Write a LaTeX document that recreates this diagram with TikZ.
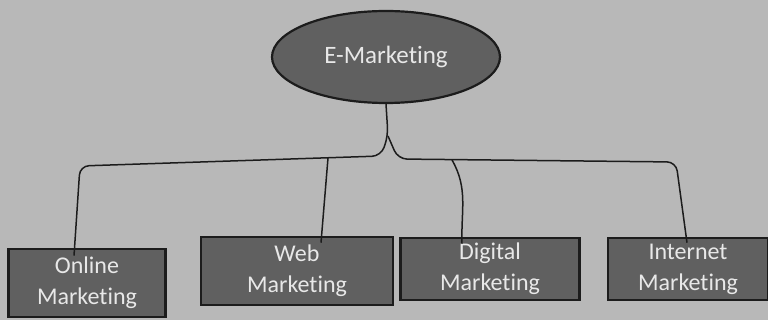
\documentclass[tikz,border=0pt]{standalone}
\usepackage{fontspec}
\setmainfont[Ligatures=NoCommon]{Carlito}
\usetikzlibrary{shapes.geometric}
\definecolor{paper}{RGB}{184,184,184}
\definecolor{boxfill}{RGB}{96,96,96}
\definecolor{ink}{RGB}{28,28,28}
\definecolor{label}{RGB}{232,232,232}
\tikzset{
  topnode/.style={ellipse, draw=ink, line width=2.2pt, fill=boxfill,
    minimum width=228pt, minimum height=92pt, inner sep=0pt,
    text=label, font=\fontsize{25}{30}\selectfont},
  leafbox/.style={rectangle, draw=ink, line width=2.6pt, fill=boxfill,
    inner sep=0pt, align=center, text=label,
    font=\fontsize{24}{31}\selectfont},
  link/.style={draw=ink, line width=1.5pt, rounded corners=9pt}
}
\begin{document}
\begin{tikzpicture}[x=1pt,y=-1pt]
  \useasboundingbox (0,0) rectangle (768,320);
  \fill[paper] (0,0) rectangle (768,320);

  % root
  \node[topnode] (em) at (386,57) {E-Marketing};

  % leaves
  \node[leafbox, minimum width=157pt, minimum height=68pt] (online) at (87,283) {Online\\Marketing};
  \node[leafbox, minimum width=192pt, minimum height=68pt] (web) at (297,271) {Web\\Marketing};
  \node[leafbox, minimum width=179pt, minimum height=62pt] (digital) at (490,269) {Digital\\Marketing};
  \node[leafbox, minimum width=160pt, minimum height=62pt] (internet) at (688,269) {Internet\\Marketing};

  % branch points
  \coordinate (trunk) at (388,136);
  \coordinate (lbend) at (381,156);
  \coordinate (lend) at (80,166);
  \coordinate (rbend) at (398,159);
  \coordinate (rend) at (676,162);
  \coordinate (webtop) at (328,158);
  \coordinate (digtop) at (452,160);

  % trunk and horizontal bars
  \draw[link] (em.south) -- (trunk) -- (lbend) -- (lend) -- ([yshift=-8pt]online.north -| 74,0);
  \draw[link] (trunk) -- (rbend) -- (rend) -- ([yshift=-6pt]internet.north -| 687,0);
  \draw[link] (webtop) -- ([yshift=-7pt]web.north -| 321,0);
  \draw[link] (digtop) to[out=-60,in=92] ([yshift=-7pt]digital.north -| 462,0);
\end{tikzpicture}
\end{document}
